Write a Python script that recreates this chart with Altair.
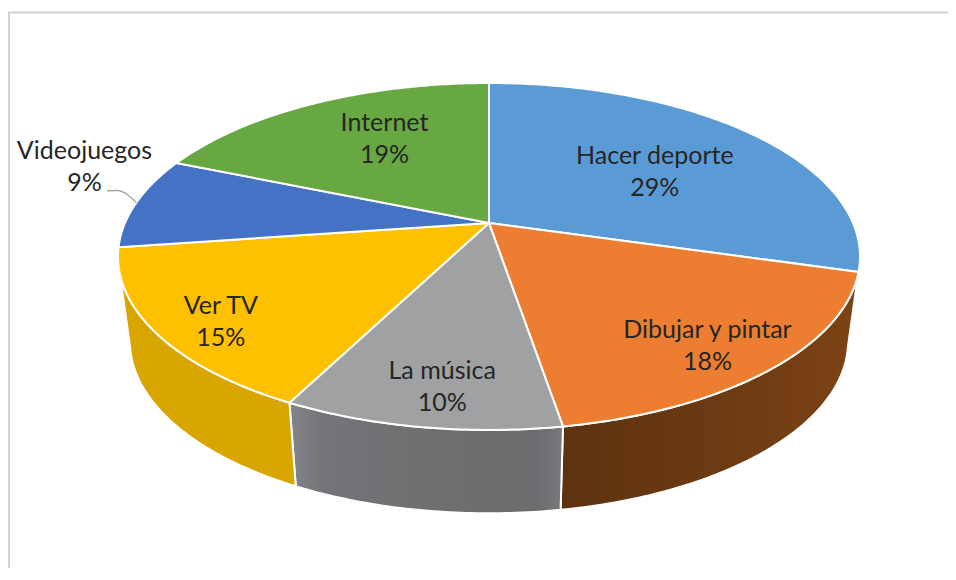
import math
import altair as alt
import pandas as pd

# --- chart values -------------------------------------------------------
categories = ["Hacer deporte", "Dibujar y pintar", "La música", "Ver TV", "Videojuegos", "Internet"]
values = [29.47, 17.9, 10.13, 15.25, 8.55, 18.7]
percent_labels = ["29%", "18%", "10%", "15%", "9%", "19%"]
top_colors = ["#5b9bd5", "#ed7d31", "#a0a1a3", "#ffc000", "#4472c4", "#68a843"]
# label anchors in pie coordinates: turn around the pie, fraction of radius
label_turns = [0.153, 0.390, 0.521, 0.644, 0.798, 0.919]
label_radii = [0.592, 0.826, 0.824, 0.843, 1.247, 0.654]
leader_turns = [0.779, 0.780, 0.770]
leader_radii = [1.108, 1.080, 1.000]

# --- perspective model of the tilted disc --------------------------------
CX, PIVOT_Y, A, B, K = 481, 215, 364, 167, 0.193   # inside-the-plot pixels
DEPTH, BASE_SHRINK_X, BASE_SHRINK_Y = 85, 0.968, 0.992
W, H = 940, 560


def project(turn, r=1.0, base=False):
    t = turn * 2 * math.pi
    u, v = r * math.sin(t), r * math.cos(t)
    w = 1 + K * v
    sx, sy, dy = (BASE_SHRINK_X, BASE_SHRINK_Y, DEPTH) if base else (1, 1, 0)
    return CX + sx * A * u / w, PIVOT_Y + dy - sy * B * v / w


def arc(t0, t1, base=False, step=0.002):
    n = max(2, int(abs(t1 - t0) / step))
    return [project(t0 + (t1 - t0) * i / n, 1.0, base) for i in range(n + 1)]


bounds = [0.0]
for val in values:
    bounds.append(bounds[-1] + val / sum(values))


def polygon_df(points):
    pts = points + [points[0]]
    return pd.DataFrame({"x": [p[0] for p in pts], "y": [p[1] for p in pts], "i": range(len(pts))})


x_scale = alt.Scale(domain=[0, W], range=[0, W], nice=False, zero=False)
y_scale = alt.Scale(domain=[0, H], range=[0, H], nice=False, zero=False)
X = alt.X("x:Q", scale=x_scale, axis=None)
Y = alt.Y("y:Q", scale=y_scale, axis=None)


def poly(points, fill, stroke="white", sw=2.0):
    return (
        alt.Chart(polygon_df(points))
        .mark_line(fill=fill, stroke=stroke, strokeWidth=sw, strokeJoin="round", clip=False)
        .encode(x=X, y=Y, order="i:Q")
    )


def grad(stops):
    return alt.Gradient(
        gradient="linear", x1=0, y1=0, x2=1, y2=0,
        stops=[alt.GradientStop(color=c, offset=o) for o, c in stops],
    )


SILHOUETTE = 0.286
walls = [
    (SILHOUETTE, bounds[2], grad([(0, "#5d3210"), (0.6, "#6e3b12"), (1, "#7d4314")])),
    (bounds[2], bounds[3], grad([(0, "#83858a"), (0.12, "#74757a"), (0.5, "#6f6f70"), (0.9, "#6b6c6e"), (1, "#77797c")])),
    (bounds[3], 1 - SILHOUETTE, "#d9a500"),
]
layers = []
for t0, t1, fill in walls:
    layers.append(poly(arc(t0, t1) + arc(t1, t0, base=True), fill))

for n, color in enumerate(top_colors):
    layers.append(poly([project(0, 0)] + arc(bounds[n], bounds[n + 1]), color))

# frame lines of the picture
frame_df = pd.DataFrame({"x": [W, 1, 1], "y": [4.5, 4.5, H], "i": [0, 1, 2]})
layers.append(
    alt.Chart(frame_df).mark_line(stroke="#d2d2d2", strokeWidth=2).encode(x=X, y=Y, order="i:Q")
)

# leader line
leader = [project(t, r) for t, r in zip(leader_turns, leader_radii)]
leader_df = pd.DataFrame({"x": [p[0] for p in leader], "y": [p[1] for p in leader], "i": range(len(leader))})
layers.append(
    alt.Chart(leader_df)
    .mark_line(stroke="#a6a6a6", strokeWidth=1.5, interpolate="monotone")
    .encode(x=X, y=Y, order="i:Q")
)

# data labels
anchors = [project(t, r) for t, r in zip(label_turns, label_radii)]
label_df = pd.DataFrame({
    "x": [p[0] for p in anchors],
    "y": [p[1] for p in anchors],
    "label": [f"{c}\n{p}" for c, p in zip(categories, percent_labels)],
})
layers.append(
    alt.Chart(label_df)
    .mark_text(font="Lato", fontSize=25, color="#262626", lineBreak="\n", lineHeight=32,
               align="center", baseline="middle", dy=-14)
    .encode(x=X, y=Y, text="label:N")
)

chart = (
    alt.layer(*layers)
    .properties(width=W, height=H, padding=0, background="white",
                autosize=alt.AutoSizeParams(type="none"))
    .configure_view(stroke=None)
)
chart.save("out.html", embed_options={"renderer": "svg", "actions": False})
